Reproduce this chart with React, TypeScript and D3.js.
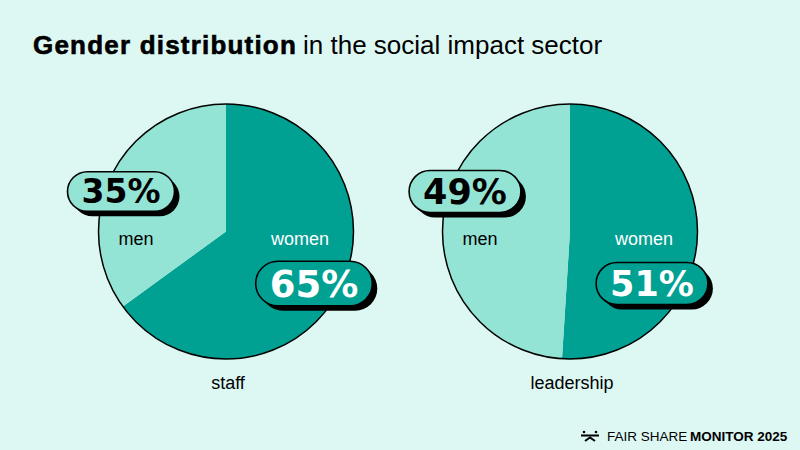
import * as d3 from "d3";

// chart data
const groups = ["staff", "leadership"];
const womenShare = [65, 51];
const menShare = [35, 49];
const sliceLabels = ["women", "men"];

const W = 800;
const H = 450;
const BG = "#ddf8f3";
const DARK = "#00a192";
const LIGHT = "#93e4d4";

const radius = 127.5;
const centers = [
  { x: 226, y: 231.5 },
  { x: 570, y: 231.5 },
];
// badge font sizes per pie: [women, men]
const badgeSize = [
  [37, 33],
  [35, 35],
];

const pie = d3
  .pie<number>()
  .sort(null)
  .value((d) => d);
const arc = d3.arc<d3.PieArcDatum<number>>().innerRadius(0).outerRadius(radius);

const numFont = "'DejaVu Sans', sans-serif";
const textFont = "'Liberation Sans', Arial, sans-serif";

type BadgeProps = { x: number; y: number; text: string; size: number; dark: boolean };

const Badge = ({ x, y, text, size, dark }: BadgeProps) => {
  const tw = text.length === 3 ? size * 2.394 : size * 1.7;
  const w = tw + 28;
  const h = size * 1.2;
  const fill = dark ? DARK : LIGHT;
  return (
    <g transform={`translate(${x},${y})`}>
      <rect x={-w / 2 + 5} y={-h / 2 + 5} width={w} height={h} rx={h / 2} fill="#000" />
      <rect
        x={-w / 2}
        y={-h / 2}
        width={w}
        height={h}
        rx={h / 2}
        fill={fill}
        stroke="#000"
        strokeWidth={1.6}
      />
      <text
        y={size * 0.36}
        textAnchor="middle"
        fontFamily={numFont}
        fontWeight={700}
        fontSize={size}
        fill={dark ? "#fff" : "#000"}
      >
        {text}
      </text>
    </g>
  );
};

const App = () => {
  return (
    <svg width={W} height={H} style={{ display: "block", position: "absolute", left: 0, top: 0 }}>
      <rect width={W} height={H} fill={BG} />
      <text x={33} y={54} fontFamily={textFont} fontSize={26} fill="#000">
        <tspan fontWeight={700} letterSpacing={1.2} stroke="#000" strokeWidth={0.6}>
          Gender distribution
        </tspan>
        <tspan x={303}>in the social impact sector</tspan>
      </text>

      {groups.map((g, i) => {
        const c = centers[i];
        const arcs = pie([womenShare[i], menShare[i]]);
        return (
          <g key={g}>
            <g transform={`translate(${c.x},${c.y})`}>
              {arcs.map((a, j) => (
                <path key={j} d={arc(a) ?? ""} fill={j === 0 ? DARK : LIGHT} />
              ))}
              <circle r={radius} fill="none" stroke="#000" strokeWidth={1.5} />
              <text
                x={74}
                y={13}
                textAnchor="middle"
                fontFamily={textFont}
                fontSize={18}
                fill="#fff"
              >
                {sliceLabels[0]}
              </text>
              <text
                x={-90}
                y={13}
                textAnchor="middle"
                fontFamily={textFont}
                fontSize={18}
                fill="#000"
              >
                {sliceLabels[1]}
              </text>
            </g>
            <Badge
              x={c.x - 105}
              y={c.y - 40}
              text={`${menShare[i]}%`}
              size={badgeSize[i][1]}
              dark={false}
            />
            <Badge
              x={c.x + (i === 0 ? 88 : 82)}
              y={c.y + 52}
              text={`${womenShare[i]}%`}
              size={badgeSize[i][0]}
              dark={true}
            />
            <text
              x={c.x + 2}
              y={c.y + 157}
              textAnchor="middle"
              fontFamily={textFont}
              fontSize={18}
              fill="#000"
            >
              {g}
            </text>
          </g>
        );
      })}

      {/* footer logo */}
      <g stroke="#000" strokeWidth={2} fill="none">
        <circle cx={584} cy={432} r={1.3} fill="#000" stroke="none" />
        <circle cx={596} cy={432} r={1.3} fill="#000" stroke="none" />
        <line x1={581} y1={435.5} x2={599} y2={435.5} />
        <polyline points="585,441 590,437.5 595,441" />
      </g>
      <text x={607} y={441} fontFamily={textFont} fontSize={13.5} fill="#000">
        <tspan>FAIR SHARE</tspan>
        <tspan x={690} fontWeight={700}>
          MONITOR 2025
        </tspan>
      </text>
    </svg>
  );
};

export default App;
